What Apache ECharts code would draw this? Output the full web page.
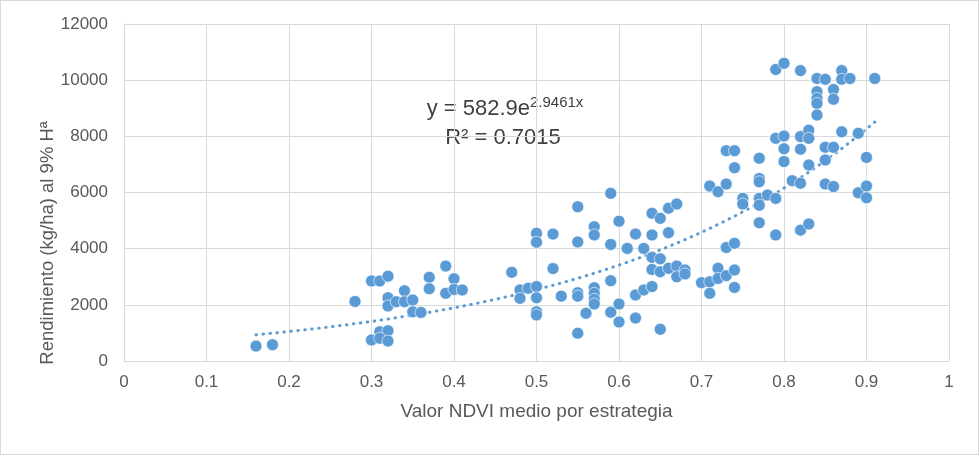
<!DOCTYPE html>
<html>
<head>
<meta charset="utf-8">
<script src="https://cdn.jsdelivr.net/npm/echarts@6/dist/echarts.min.js"></script>
<style>
html,body{margin:0;padding:0;background:#fff;}
#c{width:979px;height:455px;box-sizing:border-box;border:1px solid #d9d9d9;}
</style>
</head>
<body>
<div id="c"></div>
<script>
// NDVI values (x) and yield values (y)
const ndvi = [0.16,0.18,0.28,0.30,0.31,0.32,0.37,0.37,0.39,0.39,0.32,0.32,0.33,0.34,0.34,0.35,0.35,0.36,0.30,0.31,0.32,0.31,0.32,0.40,0.40,0.41,
0.47,0.48,0.48,0.49,0.50,0.50,0.50,0.50,0.50,0.50,0.52,0.52,0.53,0.55,0.55,0.55,0.55,0.55,0.56,0.57,0.57,0.57,0.57,0.57,0.57,
0.59,0.59,0.59,0.59,0.60,0.60,0.60,0.61,0.62,0.62,0.62,0.63,0.63,0.64,0.64,0.64,0.64,0.64,0.65,0.65,0.65,0.65,0.66,0.66,0.66,
0.67,0.67,0.67,0.68,0.68,0.70,0.71,0.71,0.72,0.72,0.73,0.73,0.74,0.74,0.74,0.71,0.72,0.73,0.73,0.74,0.74,0.75,0.75,
0.77,0.77,0.77,0.77,0.77,0.77,0.78,0.79,0.79,0.79,0.80,0.80,0.80,0.79,0.80,0.82,0.84,0.85,0.87,0.87,0.88,0.91,
0.84,0.84,0.84,0.84,0.86,0.86,0.82,0.83,0.83,0.82,0.83,0.81,0.82,0.82,0.83,0.85,0.86,0.85,0.87,0.89,0.90,0.85,0.86,0.89,0.90,0.90];
const yieldKg = [530,580,2120,2850,2850,3020,2980,2570,3380,2410,2250,1960,2110,2500,2110,2170,1750,1730,750,1040,1080,810,710,2930,2550,2530,
3160,2530,2230,2590,2650,4550,4230,2250,1750,1640,4520,3290,2310,5490,4240,2430,2310,990,1700,4780,4490,2610,2410,2200,2030,
5970,4150,2860,1740,4980,2030,1390,4010,4520,2350,1530,4010,2530,5260,4490,3690,3260,2650,5080,3640,3180,1130,5440,4570,3300,
5590,3380,3000,3240,3100,2790,2820,2410,3300,2940,3040,4040,4190,3240,2620,6230,6030,6300,7490,7490,6880,5790,5590,
7220,6500,6380,5790,5550,4920,5910,5790,4490,7930,8010,7560,7100,10380,10600,10340,10060,10030,10340,10030,10060,10060,
9590,9350,9170,8760,9670,9320,7990,8220,7930,7540,6980,6420,6330,4660,4880,7610,7610,7160,8160,8110,7250,6300,6210,5990,6230,5810];

// Exponential trendline shown in the chart: y = 582.9 e^(2.9461 x), drawn over the data range
const trendCoef = [582.9, 2.9461];
const trendRange = [0.16, 0.91];

const xTicks = [0,0.1,0.2,0.3,0.4,0.5,0.6,0.7,0.8,0.9,1];
const yTicks = [0,2000,4000,6000,8000,10000,12000];

const points = ndvi.map((x,i)=>[x, yieldKg[i]]);
const trend = [];
for (let k=0;k<=60;k++){
  const x = trendRange[0] + (trendRange[1]-trendRange[0])*k/60;
  trend.push([x, trendCoef[0]*Math.exp(trendCoef[1]*x)]);
}

const FONT = '"Liberation Sans", Arial, sans-serif';
const chart = echarts.init(document.getElementById('c'));
chart.setOption({
  animation:false,
  backgroundColor:'#fff',
  grid:{left:123,right:29,top:23,bottom:93,containLabel:false},
  xAxis:{type:'value',min:xTicks[0],max:xTicks[xTicks.length-1],interval:0.1,
    axisLine:{show:true,lineStyle:{color:'#d9d9d9',width:1}},
    axisTick:{show:false},
    splitLine:{show:true,lineStyle:{color:'#d9d9d9',width:1}},
    axisLabel:{color:'#595959',fontSize:17,fontFamily:FONT,margin:13,formatter:v=>String(+(+v).toFixed(1))},
    name:'Valor NDVI medio por estrategia',nameLocation:'middle',nameGap:41,
    nameTextStyle:{color:'#595959',fontSize:19,fontFamily:FONT}
  },
  yAxis:{type:'value',min:yTicks[0],max:yTicks[yTicks.length-1],interval:2000,
    axisLine:{show:true,lineStyle:{color:'#d9d9d9',width:1}},
    axisTick:{show:false},
    splitLine:{show:true,lineStyle:{color:'#d9d9d9',width:1}},
    axisLabel:{color:'#595959',fontSize:17,fontFamily:FONT,margin:16,formatter:v=>String(v)}
  },
  graphic:[
    {type:'text',x:47,y:242,rotation:Math.PI/2,
      style:{text:'Rendimiento (kg/ha) al 9% Hª',fill:'#595959',font:'18.5px '+FONT,align:'center',verticalAlign:'middle'}},
    {type:'text',x:504,y:108,
      style:{text:'{a|y = 582.9e}{s|2.9461x}',align:'center',verticalAlign:'middle',
        rich:{a:{fontSize:22,fontFamily:FONT,fill:'#404040',color:'#404040'},s:{fontSize:15,fontFamily:FONT,color:'#404040',fill:'#404040',verticalAlign:'top',padding:[0,0,12,0]}}}},
    {type:'text',x:502,y:137,
      style:{text:'R² = 0.7015',fill:'#404040',font:'22px '+FONT,align:'center',verticalAlign:'middle'}}
  ],
  series:[
    {type:'scatter',data:points,symbol:'circle',symbolSize:12,
      itemStyle:{color:'#5B9BD5',opacity:1,borderColor:'#ffffff',borderWidth:0.6},z:3},
    {type:'line',data:trend,showSymbol:false,smooth:false,silent:true,
      lineStyle:{color:'#5B9BD5',width:3,type:[0.5,6.5],cap:'round'},z:2}
  ]
});
</script>
</body>
</html>
